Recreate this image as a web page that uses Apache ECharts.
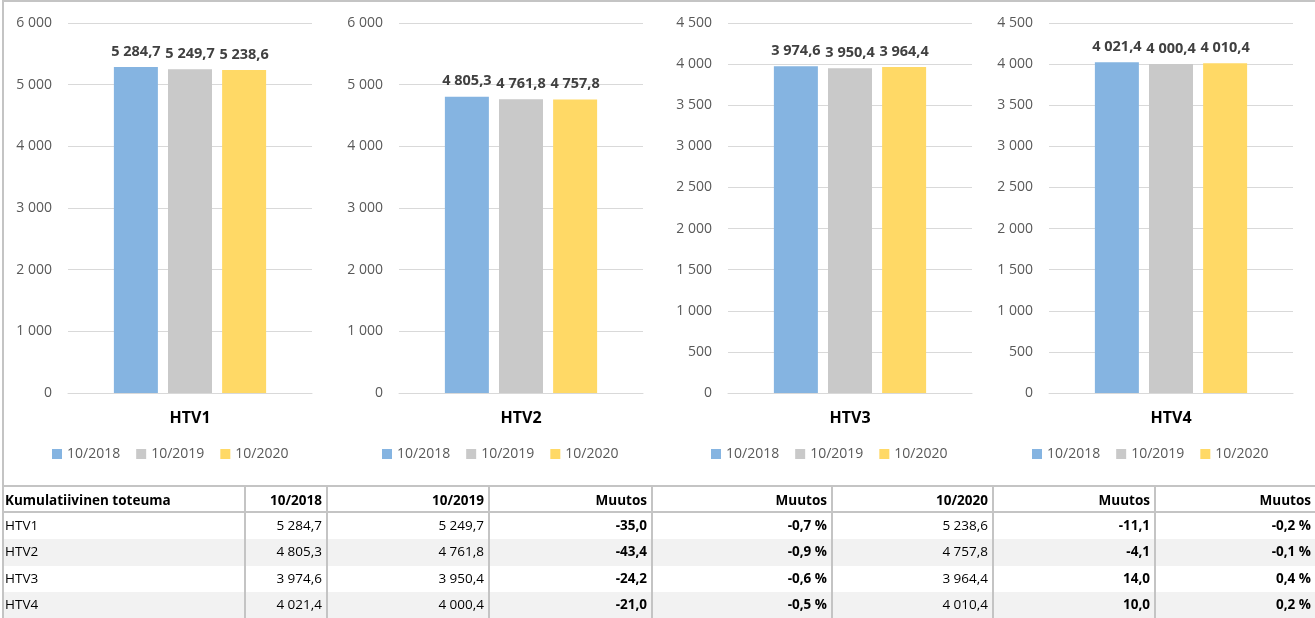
<!DOCTYPE html>
<html>
<head>
<meta charset="utf-8">
<script src="https://cdn.jsdelivr.net/npm/echarts@6/dist/echarts.min.js"></script>
<style>
  body { margin: 0; background: #fff; width: 1315px; height: 618px; overflow: hidden; position: relative; font-family: "Open Sans", sans-serif; }
  #chart { position: absolute; left: 0; top: 0; width: 1315px; height: 485px; }
  #frame { position: absolute; left: 2px; top: 0; width: 1313px; height: 485px; box-sizing: border-box;
           border-top: 2px solid #c4c4c4; border-left: 2px solid #c4c4c4; pointer-events: none; }
  #table { position: absolute; left: 2px; top: 485px; width: 1313px; box-sizing: border-box;
           border-top: 2px solid #c4c4c4; border-left: 2px solid #c4c4c4;
           display: grid; grid-template-columns: 242px 82px 162px 163px 180px 161px 162px 161px; }
  #table div { box-sizing: border-box; border-right: 2px solid #c4c4c4; font-size: 13.5px; color: #000;
               text-align: right; padding-right: 4px; white-space: nowrap; }
  #table div.first { text-align: left; padding-left: 1px; }
  #table div.head { font-weight: bold; height: 26px; line-height: 26px; border-bottom: 2px solid #c4c4c4; }
  #table div.row { height: 26.25px; line-height: 24px; }
  #table div.alt { background: #f2f2f2; }
  #table div.b { font-weight: bold; }
</style>
</head>
<body>
<div id="chart"></div>
<div id="frame"></div>
<div id="table"></div>
<script>
  // kategoriat ja sarjat
  const categories = ['HTV1', 'HTV2', 'HTV3', 'HTV4'];
  const seriesNames = ['10/2018', '10/2019', '10/2020'];
  const v2018 = [5284.7, 4805.3, 3974.6, 4021.4];
  const v2019 = [5249.7, 4761.8, 3950.4, 4000.4];
  const v2020 = [5238.6, 4757.8, 3964.4, 4010.4];
  const yMax = [6000, 6000, 4500, 4500];
  const yStep = [1000, 1000, 500, 500];

  // taulukon sarakkeet
  const tableHeaders = ['Kumulatiivinen toteuma', '10/2018', '10/2019', 'Muutos', 'Muutos', '10/2020', 'Muutos', 'Muutos'];
  const change19 = [-35.0, -43.4, -24.2, -21.0];
  const change19Pct = [-0.7, -0.9, -0.6, -0.5];
  const change20 = [-11.1, -4.1, 14.0, 10.0];
  const change20Pct = [-0.2, -0.1, 0.4, 0.2];

  const colors = ['#85b4e1', '#c9c9c9', '#ffd966'];

  function fmt(v, dec) {
    let s = Math.abs(v).toFixed(dec);
    let parts = s.split('.');
    let intPart = parts[0].replace(/\B(?=(\d{3})+(?!\d))/g, ' ');
    return (v < 0 ? '-' : '') + intPart + (parts[1] ? ',' + parts[1] : '');
  }

  const gridLeft = [68, 399, 728, 1049];
  const legendLeft = [47, 377, 706, 1027];
  const allValues = [v2018, v2019, v2020];

  let grids = [], xAxes = [], yAxes = [], series = [], legends = [];
  categories.forEach(function (cat, i) {
    grids.push({left: gridLeft[i], width: 244, top: 23, bottom: 92});
    xAxes.push({
      type: 'category', gridIndex: i, data: [cat],
      axisTick: {show: false},
      axisLine: {lineStyle: {color: '#d9d9d9', width: 1}},
      axisLabel: {fontSize: 16, fontWeight: 'bold', color: '#000', margin: 17, fontFamily: 'Open Sans'}
    });
    yAxes.push({
      type: 'value', gridIndex: i, min: 0, max: yMax[i], interval: yStep[i],
      axisLine: {show: false}, axisTick: {show: false},
      splitLine: {lineStyle: {color: '#d9d9d9', width: 1}},
      axisLabel: {fontSize: 14, color: '#595959', margin: 16, fontFamily: 'Open Sans',
        formatter: function (v) { return fmt(v, 0); }}
    });
    seriesNames.forEach(function (name, k) {
      series.push({
        name: name, type: 'bar', xAxisIndex: i, yAxisIndex: i,
        data: [allValues[k][i]],
        barWidth: 44, barGap: '23%',
        itemStyle: {color: colors[k]},
        label: {
          show: true, position: 'top', distance: 8,
          fontSize: 14.5, fontWeight: 'bold', color: '#404040', fontFamily: 'Open Sans',
          formatter: function (p) { return fmt(p.value, 1); }
        }
      });
    });
    legends.push({
      data: seriesNames, left: legendLeft[i], top: 442,
      icon: 'rect', itemWidth: 10, itemHeight: 10, itemGap: 16,
      textStyle: {fontSize: 14, color: '#595959', fontFamily: 'Open Sans'}
    });
  });

  let chart = echarts.init(document.getElementById('chart'));
  chart.setOption({
    animation: false,
    textStyle: {fontFamily: 'Open Sans'},
    grid: grids,
    xAxis: xAxes,
    yAxis: yAxes,
    legend: legends,
    series: series
  });

  // taulukko
  let table = document.getElementById('table');
  function cell(text, cls) {
    let d = document.createElement('div');
    d.className = cls;
    d.textContent = text;
    table.appendChild(d);
  }
  tableHeaders.forEach(function (h, c) {
    cell(h, 'head' + (c === 0 ? ' first' : ''));
  });
  categories.forEach(function (cat, i) {
    let base = 'row' + (i % 2 === 1 ? ' alt' : '');
    cell(cat, base + ' first');
    cell(fmt(v2018[i], 1), base);
    cell(fmt(v2019[i], 1), base);
    cell(fmt(change19[i], 1), base + ' b');
    cell(fmt(change19Pct[i], 1) + ' %', base + ' b');
    cell(fmt(v2020[i], 1), base);
    cell(fmt(change20[i], 1), base + ' b');
    cell(fmt(change20Pct[i], 1) + ' %', base + ' b');
  });
</script>
</body>
</html>
